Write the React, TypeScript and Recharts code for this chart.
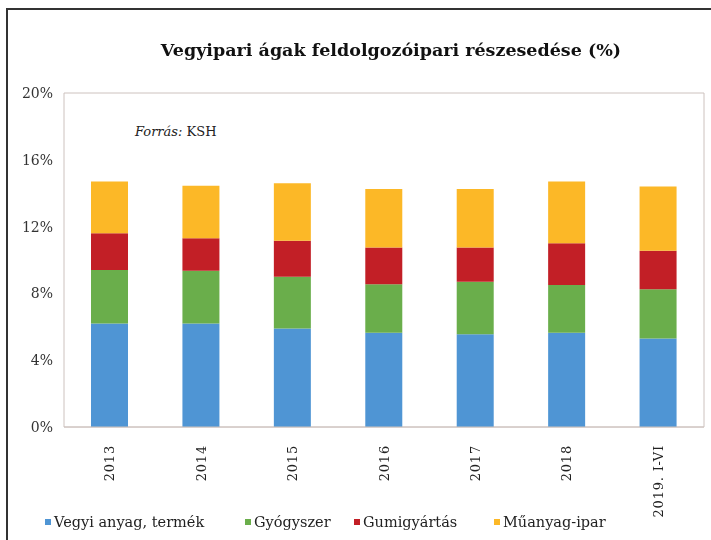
import { BarChart, Bar, XAxis, YAxis, CartesianGrid, Legend } from "recharts";

const categories = ["2013", "2014", "2015", "2016", "2017", "2018", "2019. I-VI"];
const vegyi = [6.2, 6.2, 5.9, 5.65, 5.55, 5.65, 5.3];
const gyogyszer = [3.2, 3.15, 3.1, 2.9, 3.15, 2.85, 2.95];
const gumi = [2.2, 1.95, 2.15, 2.2, 2.05, 2.5, 2.3];
const muanyag = [3.1, 3.15, 3.45, 3.5, 3.5, 3.7, 3.85];
const yTicks = [0, 4, 8, 12, 16, 20];

const series = [
  { key: "vegyi", name: "Vegyi anyag, termék", color: "#4f95d4" },
  { key: "gyogyszer", name: "Gyógyszer", color: "#6aae4b" },
  { key: "gumi", name: "Gumigyártás", color: "#c21f26" },
  { key: "muanyag", name: "Műanyag-ipar", color: "#fcb827" },
];
// legend slot widths, to space the items like the original
const legendSlots = [200, 109, 140, 120];

const data = categories.map((c, i) => ({
  cat: c,
  vegyi: vegyi[i],
  gyogyszer: gyogyszer[i],
  gumi: gumi[i],
  muanyag: muanyag[i],
}));

const serif = "'DejaVu Serif', serif";

function XTick(props: any) {
  const { x, y, payload } = props;
  return (
    <text
      x={x}
      y={y + 10}
      transform={`rotate(-90, ${x}, ${y + 10})`}
      textAnchor="end"
      dy="0.35em"
      fontFamily={serif}
      fontSize={13}
      letterSpacing={0.8}
      fill="#222"
    >
      {payload.value}
    </text>
  );
}

function LegendBox() {
  return (
    <div style={{ display: "flex", alignItems: "center", height: 26, fontFamily: serif, fontSize: 14.5, color: "#222" }}>
      {series.map((s, i) => (
        <div key={s.key} style={{ display: "flex", alignItems: "center", width: legendSlots[i] }}>
          <span style={{ width: 6, height: 6, background: s.color, marginRight: 3 }} />
          <span>{s.name}</span>
        </div>
      ))}
    </div>
  );
}

export default function App() {
  return (
    <div style={{ position: "fixed", left: 0, top: 0, width: 711, height: 540, background: "#fff" }}>
      <div
        style={{
          position: "absolute",
          left: 6,
          top: 8,
          width: 705,
          height: 532,
          borderTop: "2px solid #333",
          borderLeft: "2px solid #333",
          boxSizing: "border-box",
        }}
      />
      <div
        style={{
          position: "absolute",
          left: 0,
          width: 782,
          top: 40,
          textAlign: "center",
          fontFamily: serif,
          fontWeight: "bold",
          fontSize: 17.5,
          color: "#111",
        }}
      >
        Vegyipari ágak feldolgozóipari részesedése (%)
      </div>
      <div style={{ position: "absolute", left: 135, top: 124, fontFamily: serif, fontSize: 13, color: "#222" }}>
        <i>Forrás:</i> KSH
      </div>
      <BarChart width={711} height={540} data={data} margin={{ top: 93, right: 0, bottom: 5, left: 0 }} barSize={37}>
        <CartesianGrid vertical={false} stroke="#cdc2be" />
        <XAxis
          dataKey="cat"
          interval={0}
          height={82}
          tick={<XTick />}
          tickLine={false}
          axisLine={{ stroke: "#cdc2be" }}
        />
        <YAxis
          yAxisId="l"
          width={64}
          domain={[0, 20]}
          ticks={yTicks}
          tickFormatter={(v) => `${v}%`}
          tickLine={false}
          tickMargin={5}
          axisLine={{ stroke: "#cdc2be" }}
          tick={{ fontFamily: serif, fontSize: 14, fill: "#333" }}
        />
        <YAxis
          yAxisId="r"
          orientation="right"
          width={7}
          domain={[0, 20]}
          ticks={yTicks}
          tick={false}
          tickLine={false}
          axisLine={{ stroke: "#cdc2be" }}
        />
        <Legend
          verticalAlign="bottom"
          align="left"
          content={<LegendBox />}
          wrapperStyle={{ left: 45 }}
        />
        {series.map((s) => (
          <Bar key={s.key} yAxisId="l" dataKey={s.key} name={s.name} stackId="a" fill={s.color} isAnimationActive={false} />
        ))}
      </BarChart>
    </div>
  );
}
